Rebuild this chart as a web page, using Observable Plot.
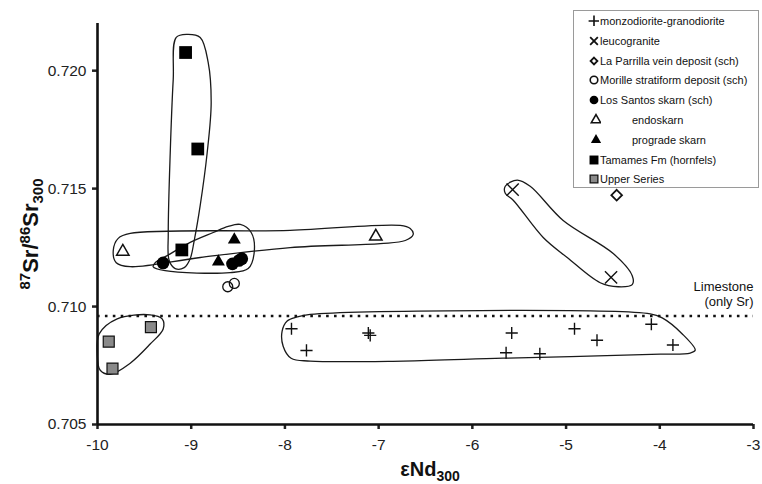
<!DOCTYPE html>
<html><head><meta charset="utf-8">
<script src="https://cdn.jsdelivr.net/npm/d3@7"></script>
<script src="https://cdn.jsdelivr.net/npm/@observablehq/plot@0.6"></script>
<style>
body{margin:0;background:#fff;font-family:"Liberation Sans",Arial,sans-serif;}
#wrap{position:relative;width:762px;height:484px;overflow:hidden}
#legend{position:absolute;left:573px;top:10px;width:186px;height:178px;border:1px solid #9a9a9a;background:#fff;font-size:11px;color:#111;box-sizing:border-box}
#legend .sym{position:absolute;width:12px;height:12px}
#legend .lab{position:absolute;white-space:nowrap;line-height:12px}
</style></head><body><div id="wrap"></div>
<script>
// ---- data (εNd300, 87Sr/86Sr300) ----
const xTicks = [-10, -9, -8, -7, -6, -5, -4, -3];
const yTicks = [0.705, 0.710, 0.715, 0.720];
const xDomain = [-10, -3];
const yDomain = [0.705, 0.722];

const monzoX = [-7.93, -7.77, -7.11, -7.09, -5.58, -5.64, -5.28, -4.91, -4.67, -4.09, -3.86];
const monzoY = [0.70906, 0.70814, 0.70888, 0.70878, 0.70888, 0.70804, 0.70800, 0.70906, 0.70857, 0.70925, 0.70837];
const leucoX = [-5.57, -4.52];
const leucoY = [0.71496, 0.71124];
const parrillaX = [-4.46];
const parrillaY = [0.71472];
const morilleX = [-8.61, -8.54];
const morilleY = [0.71084, 0.71098];
const losSantosX = [-9.30, -8.56, -8.49, -8.46];
const losSantosY = [0.71185, 0.71181, 0.71195, 0.71203];
const endoX = [-9.73, -7.03];
const endoY = [0.71233, 0.71297];
const progradeX = [-8.54, -8.71];
const progradeY = [0.71283, 0.71190];
const tamamesX = [-9.06, -8.93, -9.10];
const tamamesY = [0.72077, 0.71668, 0.71240];
const upperX = [-9.43, -9.88, -9.84];
const upperY = [0.70913, 0.70851, 0.70737];
const limestone = 0.7096;
const limestoneLabels = ["Limestone", "(only Sr)"];

// hand-drawn grouping envelopes (data coordinates)
const envTamames = [[-9.160,0.72141],[-9.043,0.72154],[-8.904,0.72141],[-8.819,0.72035],[-8.787,0.71864],[-8.830,0.71651],[-8.904,0.71429],[-8.968,0.71280],[-9.011,0.71203],[-9.075,0.71165],[-9.171,0.71161],[-9.235,0.71195],[-9.245,0.71310],[-9.224,0.71651],[-9.192,0.71962]];
const envEndo = [[-9.832,0.71237],[-9.779,0.71289],[-9.651,0.71310],[-7.944,0.71323],[-6.770,0.71344],[-6.663,0.71331],[-6.631,0.71306],[-6.716,0.71280],[-6.983,0.71267],[-7.944,0.71250],[-8.904,0.71208],[-9.651,0.71169],[-9.800,0.71186]];
const envSkarn = [[-9.406,0.71169],[-9.278,0.71152],[-8.584,0.71144],[-8.392,0.71161],[-8.328,0.71229],[-8.360,0.71314],[-8.477,0.71348],[-8.605,0.71340],[-8.765,0.71314],[-9.011,0.71272],[-9.256,0.71216],[-9.384,0.71186]];
const envUpper = [[-9.982,0.70884],[-9.790,0.70948],[-9.438,0.70965],[-9.310,0.70948],[-9.299,0.70905],[-9.438,0.70841],[-9.651,0.70760],[-9.864,0.70713],[-9.971,0.70730],[-10.003,0.70803]];
const envLeuco = [[-5.649,0.71510],[-5.521,0.71536],[-5.383,0.71510],[-5.031,0.71365],[-4.497,0.71225],[-4.294,0.71131],[-4.294,0.71093],[-4.444,0.71084],[-4.636,0.71101],[-4.988,0.71208],[-5.244,0.71293],[-5.564,0.71451],[-5.649,0.71480]];
const envMonzo = [[-7.869,0.70956],[-7.731,0.70967],[-4.102,0.70969],[-3.974,0.70952],[-3.760,0.70884],[-3.622,0.70815],[-3.675,0.70803],[-3.995,0.70798],[-5.671,0.70781],[-6.738,0.70769],[-7.731,0.70769],[-7.934,0.70781],[-8.019,0.70832],[-8.030,0.70896],[-7.976,0.70939]];

const legendLabels = ["monzodiorite-granodiorite","leucogranite","La Parrilla vein deposit (sch)","Morille stratiform deposit (sch)","Los Santos skarn (sch)","endoskarn","prograde skarn","Tamames Fm (hornfels)","Upper Series"];

// ---- build ----
const rows = (xs, ys) => xs.map((x, i) => ({x, y: ys[i]}));
const envRows = [];
[envTamames, envEndo, envSkarn, envUpper, envLeuco, envMonzo].forEach((e, g) => e.forEach(([x, y]) => envRows.push({x, y, g})));

const ink = "#111";
const plot = Plot.plot({
  width: 762, height: 484,
  marginLeft: 97, marginRight: 9, marginTop: 23, marginBottom: 60,
  style: {fontFamily: "'Liberation Sans', Arial, sans-serif", fontSize: "15px", color: "#222", background: "#fff", overflow: "visible"},
  x: {domain: xDomain},
  y: {domain: yDomain},
  marks: [
    Plot.line(envRows, {x: "x", y: "y", z: "g", curve: "catmull-rom-closed", stroke: "#1a1a1a", strokeWidth: 1.3}),
    Plot.ruleY([limestone], {stroke: ink, strokeWidth: 2.6, strokeDasharray: "2.6,5.3"}),
    Plot.text([limestoneLabels[0]], {x: () => xDomain[1], y: () => limestone, text: d => d, textAnchor: "end", dy: -29, fontSize: 13, fill: "#111"}),
    Plot.text([limestoneLabels[1]], {x: () => xDomain[1], y: () => limestone, text: d => d, textAnchor: "end", dy: -14, fontSize: 13, fill: "#111"}),
    Plot.axisX({ticks: xTicks, tickFormat: d => String(d), tickSize: 5, tickPadding: 9, strokeWidth: 2.5, fontSize: 15.5, label: null}),
    Plot.axisY({ticks: yTicks, tickFormat: d3.format(".3f"), tickSize: 5, tickPadding: 6, strokeWidth: 2.5, fontSize: 15.5, label: null}),
    Plot.ruleX([xDomain[0]], {stroke: ink, strokeWidth: 2.6}),
    Plot.ruleY([yDomain[0]], {stroke: ink, strokeWidth: 2.6}),
    Plot.dot(rows(monzoX, monzoY), {x: "x", y: "y", symbol: "plus", r: 4, stroke: ink, strokeWidth: 1.4}),
    Plot.dot(rows(leucoX, leucoY), {x: "x", y: "y", symbol: "times", r: 5.6, stroke: ink, strokeWidth: 1.4}),
    Plot.dot(rows(parrillaX, parrillaY), {x: "x", y: "y", symbol: "diamond2", r: 4.8, stroke: ink, strokeWidth: 1.8}),
    Plot.dot(rows(morilleX, morilleY), {x: "x", y: "y", symbol: "circle", r: 5, fill: "none", stroke: ink, strokeWidth: 1.3}),
    Plot.dot(rows(losSantosX, losSantosY), {x: "x", y: "y", symbol: "circle", r: 6.3, fill: "#000"}),
    Plot.dot(rows(endoX, endoY), {x: "x", y: "y", symbol: "triangle", r: 4.6, fill: "#fff", stroke: ink, strokeWidth: 1.5}),
    Plot.dot(rows(progradeX, progradeY), {x: "x", y: "y", symbol: "triangle", r: 4.8, fill: "#000"}),
    Plot.dot(rows(tamamesX, tamamesY), {x: "x", y: "y", symbol: "square", r: 7.2, fill: "#000"}),
    Plot.dot(rows(upperX, upperY), {x: "x", y: "y", symbol: "square", r: 6.2, fill: "#8a8a8a", stroke: ink, strokeWidth: 1.2})
  ]
});

// axis titles with super/subscripts
const svg = d3.select(plot);
const yl = svg.append("text").attr("transform", "translate(38,234) rotate(-90)")
  .attr("text-anchor", "middle").attr("font-weight", "bold").attr("font-size", 22).attr("fill", "#111");
yl.append("tspan").attr("font-size", 15).attr("dy", -8).text("87");
yl.append("tspan").attr("dy", 8).text("Sr/");
yl.append("tspan").attr("font-size", 15).attr("dy", -8).text("86");
yl.append("tspan").attr("dy", 8).text("Sr");
yl.append("tspan").attr("font-size", 15).attr("dy", 5).text("300");
const xl = svg.append("text").attr("x", 430).attr("y", 476)
  .attr("text-anchor", "middle").attr("font-weight", "bold").attr("font-size", 20).attr("fill", "#111");
xl.append("tspan").text("εNd");
xl.append("tspan").attr("font-size", 14).attr("dy", 5).text("300");

const wrap = document.getElementById("wrap");
wrap.appendChild(plot);

// legend
const legend = document.createElement("div");
legend.id = "legend";
wrap.appendChild(legend);
const symDefs = [
  {type: d3.symbolPlus, size: 40, fill: "none", stroke: ink, sw: 1.6},
  {type: d3.symbolTimes, size: 40, fill: "none", stroke: ink, sw: 1.8},
  {type: d3.symbolDiamond2, size: 30, fill: "none", stroke: ink, sw: 1.8},
  {type: d3.symbolCircle, size: 45, fill: "none", stroke: ink, sw: 1.6},
  {type: d3.symbolCircle, size: 60, fill: "#000", stroke: "none", sw: 0},
  {type: d3.symbolTriangle, size: 38, fill: "#fff", stroke: ink, sw: 1.6},
  {type: d3.symbolTriangle, size: 45, fill: "#000", stroke: "none", sw: 0},
  {type: d3.symbolSquare, size: 80, fill: "#000", stroke: "none", sw: 0},
  {type: d3.symbolSquare, size: 60, fill: "#8a8a8a", stroke: ink, sw: 1.3}
];
legendLabels.forEach((lab, i) => {
  const cy = 10 + i * 19.8;
  const indent = (i === 5 || i === 6);
  const sx = indent ? 22 : 20;
  const tx = indent ? 58 : 26;
  const s = symDefs[i];
  const svgNS = "http://www.w3.org/2000/svg";
  const sv = document.createElementNS(svgNS, "svg");
  sv.setAttribute("class", "sym");
  sv.setAttribute("width", 14); sv.setAttribute("height", 14);
  sv.style.left = (sx - 7) + "px"; sv.style.top = (cy - 7) + "px";
  const p = document.createElementNS(svgNS, "path");
  p.setAttribute("d", d3.symbol(s.type, s.size)());
  p.setAttribute("transform", "translate(7,7)");
  p.setAttribute("fill", s.fill); p.setAttribute("stroke", s.stroke); p.setAttribute("stroke-width", s.sw);
  sv.appendChild(p);
  legend.appendChild(sv);
  const t = document.createElement("div");
  t.className = "lab";
  t.style.left = tx + "px"; t.style.top = (cy - 6) + "px";
  t.textContent = lab;
  legend.appendChild(t);
});
</script></body></html>
